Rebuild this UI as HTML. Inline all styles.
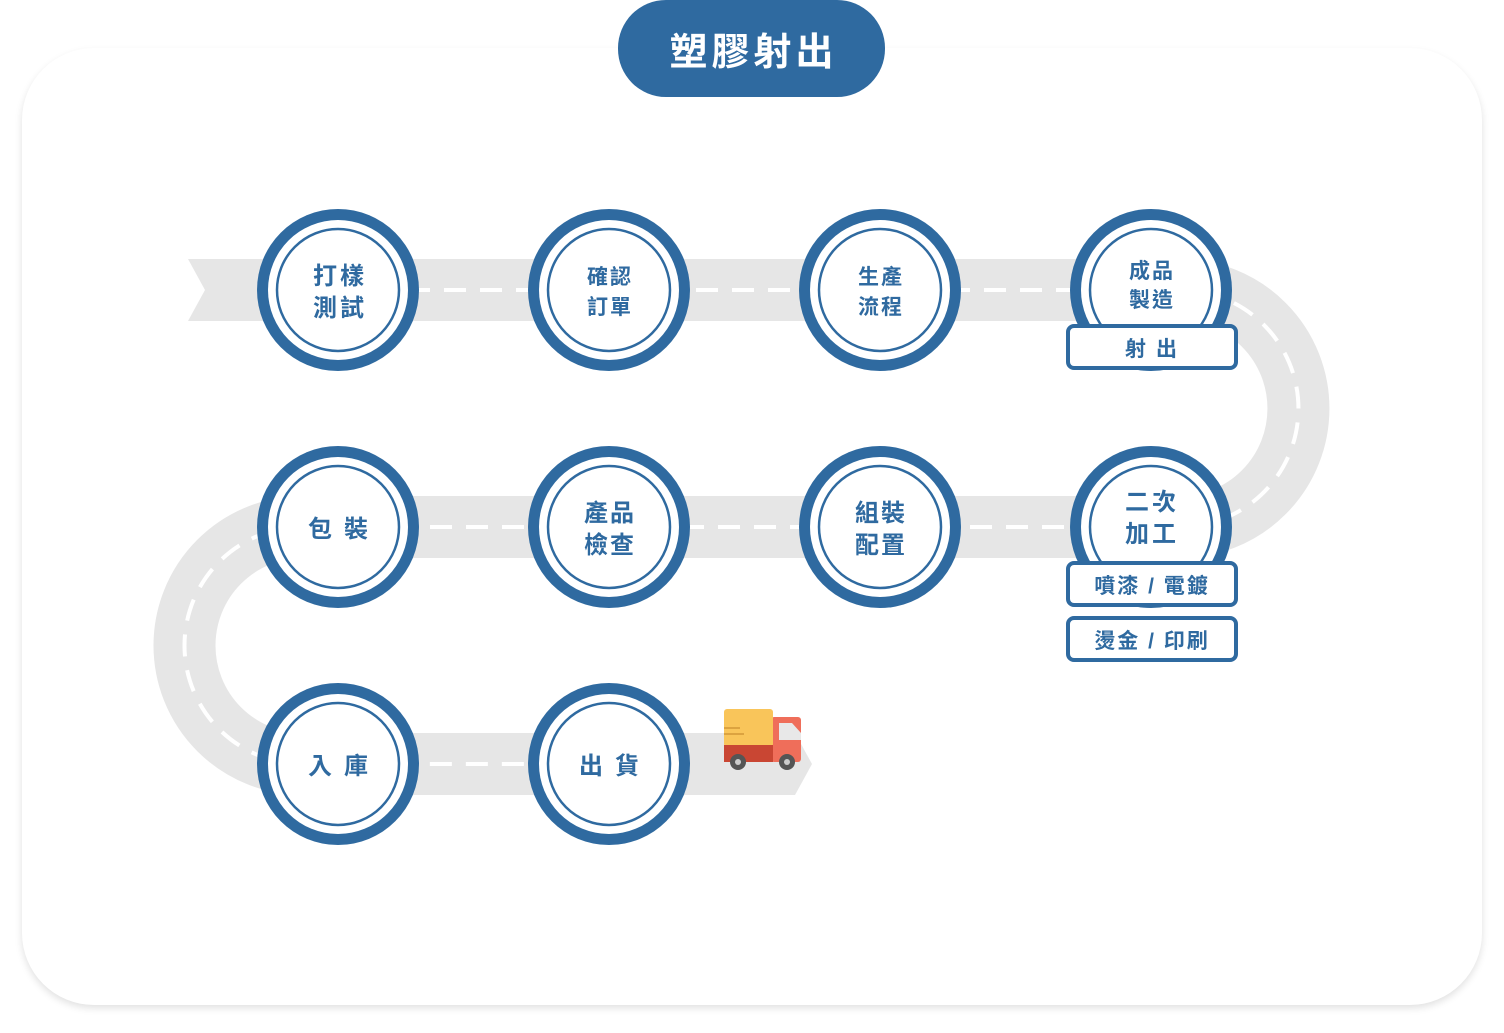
<!DOCTYPE html>
<html><head><meta charset="utf-8"><style>
body{margin:0;background:#fff;width:1504px;height:1033px;overflow:hidden;font-family:"Liberation Sans","Noto Sans CJK TC",sans-serif}
</style></head><body>
<svg width="1504" height="1033" viewBox="0 0 1504 1033" xmlns="http://www.w3.org/2000/svg" style="position:absolute;left:0;top:0">
<defs><filter id="sh" x="-5%" y="-5%" width="110%" height="110%"><feGaussianBlur stdDeviation="4"/></filter></defs>
<rect x="22" y="52" width="1460" height="956" rx="72" fill="#000" opacity="0.12" filter="url(#sh)"/>
<rect x="22" y="48" width="1460" height="957" rx="72" fill="#fff"/>
<g fill="none" stroke="#e6e6e6" stroke-width="62">
<path d="M205 290 H1180 A118.5 118.5 0 0 1 1180 527 H303 A118.5 118.5 0 0 0 303 764 H790"/>
</g>
<polygon points="188,259 205,259 205,321 188,321 205,290" fill="#e6e6e6"/>
<polygon points="780,733 795,733 812,764 795,795 780,795" fill="#e6e6e6"/>
<g fill="none" stroke="#fff" stroke-width="4" stroke-dasharray="22 14">
<path d="M300 290 H1180 A118.5 118.5 0 0 1 1180 527 H303 A118.5 118.5 0 0 0 303 764 H600"/>
</g>
<g fill="#2f6aa0">
<circle cx="338" cy="290" r="81"/><circle cx="609" cy="290" r="81"/><circle cx="880" cy="290" r="81"/><circle cx="1151" cy="290" r="81"/>
<circle cx="338" cy="527" r="81"/><circle cx="609" cy="527" r="81"/><circle cx="880" cy="527" r="81"/><circle cx="1151" cy="527" r="81"/>
<circle cx="338" cy="764" r="81"/><circle cx="609" cy="764" r="81"/>
</g>
<g fill="#fff">
<circle cx="338" cy="290" r="70"/><circle cx="609" cy="290" r="70"/><circle cx="880" cy="290" r="70"/><circle cx="1151" cy="290" r="70"/>
<circle cx="338" cy="527" r="70"/><circle cx="609" cy="527" r="70"/><circle cx="880" cy="527" r="70"/><circle cx="1151" cy="527" r="70"/>
<circle cx="338" cy="764" r="70"/><circle cx="609" cy="764" r="70"/>
</g>
<g fill="none" stroke="#2f6aa0" stroke-width="2.5">
<circle cx="338" cy="290" r="61"/><circle cx="609" cy="290" r="61"/><circle cx="880" cy="290" r="61"/><circle cx="1151" cy="290" r="61"/>
<circle cx="338" cy="527" r="61"/><circle cx="609" cy="527" r="61"/><circle cx="880" cy="527" r="61"/><circle cx="1151" cy="527" r="61"/>
<circle cx="338" cy="764" r="61"/><circle cx="609" cy="764" r="61"/>
</g>
<g fill="#fff" stroke="#2f6aa0" stroke-width="4">
<rect x="1068" y="326" width="168" height="42" rx="6"/>
<rect x="1068" y="563" width="168" height="42" rx="6"/>
<rect x="1068" y="618" width="168" height="42" rx="6"/>
</g>
<g fill="#2f6aa0" font-family="Liberation Sans,Noto Sans CJK TC,sans-serif" font-weight="bold" text-anchor="middle">
<text x="340" y="284" font-size="24" letter-spacing="3">打樣</text><text x="340" y="316" font-size="24" letter-spacing="3">測試</text>
<text x="610" y="284" font-size="21" letter-spacing="2">確認</text><text x="610" y="314" font-size="21" letter-spacing="2">訂單</text>
<text x="881" y="284" font-size="21" letter-spacing="2">生產</text><text x="881" y="314" font-size="21" letter-spacing="2">流程</text>
<text x="1152" y="278" font-size="21" letter-spacing="2">成品</text><text x="1152" y="307" font-size="21" letter-spacing="2">製造</text>
<text x="1156" y="356" font-size="21" letter-spacing="10">射出</text>
<text x="344" y="537" font-size="24" letter-spacing="12">包裝</text>
<text x="610" y="521" font-size="24" letter-spacing="2">產品</text><text x="610" y="553" font-size="24" letter-spacing="2">檢查</text>
<text x="881" y="521" font-size="24" letter-spacing="2">組裝</text><text x="881" y="553" font-size="24" letter-spacing="2">配置</text>
<text x="1152" y="510" font-size="24" letter-spacing="3">二次</text><text x="1152" y="542" font-size="24" letter-spacing="3">加工</text>
<text x="1152" y="593" font-size="21" letter-spacing="2">噴漆 / 電鍍</text>
<text x="1152" y="648" font-size="21" letter-spacing="2">燙金 / 印刷</text>
<text x="344" y="774" font-size="24" letter-spacing="12">入庫</text>
<text x="615" y="774" font-size="24" letter-spacing="12">出貨</text>
</g>
<g>
<rect x="771" y="717" width="30" height="45" rx="3" fill="#ef6e5a"/>
<polygon points="779,723 792,723 801,733 801,740 779,740" fill="#e8e8e8"/>
<rect x="724" y="709" width="49" height="38" rx="3" fill="#f9c55a"/>
<rect x="724" y="745" width="49" height="17" fill="#c94633"/>
<rect x="724" y="727" width="16" height="2" fill="#dca340"/><rect x="724" y="733" width="20" height="2" fill="#dca340"/>
<circle cx="738" cy="762" r="8" fill="#555"/><circle cx="738" cy="762" r="3" fill="#ccc"/>
<circle cx="787" cy="762" r="8" fill="#555"/><circle cx="787" cy="762" r="3" fill="#ccc"/>
</g>
<rect x="618" y="0" width="267" height="97" rx="48" fill="#2f6aa0"/>
<text x="753.5" y="65" font-size="38" font-weight="bold" fill="#fff" text-anchor="middle" letter-spacing="4" font-family="Liberation Sans,Noto Sans CJK TC,sans-serif">塑膠射出</text>
</svg>
</body></html>
